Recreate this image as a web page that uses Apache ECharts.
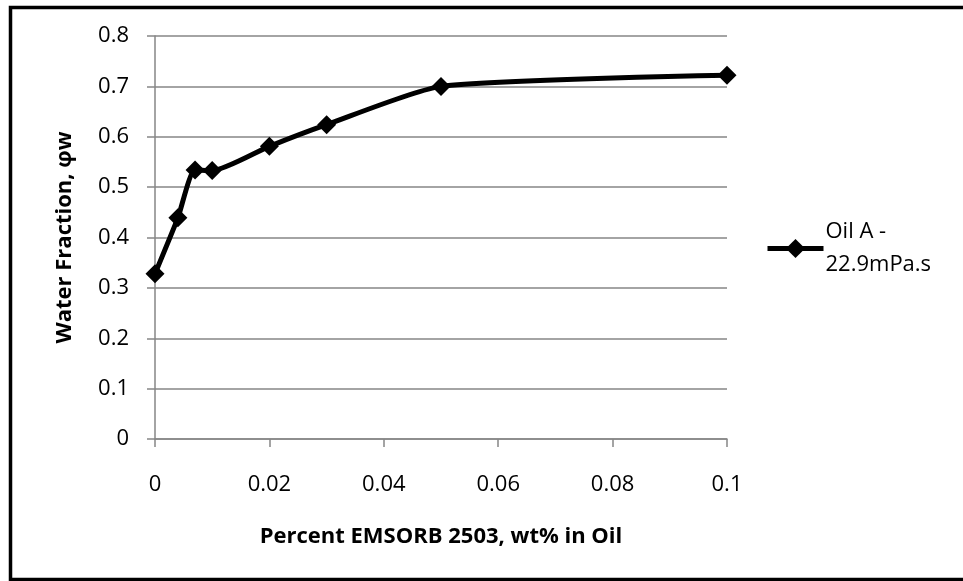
<!DOCTYPE html>
<html>
<head>
<meta charset="utf-8">
<script src="https://cdn.jsdelivr.net/npm/echarts@6/dist/echarts.min.js"></script>
<style>
html,body{margin:0;padding:0;background:#fff;}
#chart{width:963px;height:581px;}
</style>
</head>
<body>
<div id="chart"></div>
<script>
// Surfactant concentration (wt% in oil) vs. water fraction at inversion
const surfactantPct = [0, 0.004, 0.007, 0.01, 0.02, 0.03, 0.05, 0.1];
const waterFraction = [0.328, 0.439, 0.534, 0.533, 0.581, 0.624, 0.700, 0.722];
const seriesName = 'Oil A -\n22.9mPa.s';
const xTicks = { min: 0, max: 0.1, interval: 0.02 };
const yTicks = { min: 0, max: 0.8, interval: 0.1 };

const font = "'Open Sans', 'Noto Sans', sans-serif";
const gray = '#868686';

const chart = echarts.init(document.getElementById('chart'), null, { renderer: 'canvas' });
chart.setOption({
  backgroundColor: '#fff',
  animation: false,
  textStyle: { fontFamily: font },
  graphic: [{
    type: 'rect',
    shape: { x: 10.5, y: 7.5, width: 980, height: 572 },
    style: { fill: 'none', stroke: '#000', lineWidth: 3.5 },
    silent: true
  }],
  grid: { left: 155, right: 236, top: 36, bottom: 142 },
  legend: {
    left: 765, top: 199,
    padding: 0,
    itemWidth: 56, itemHeight: 24,
    itemGap: 0,
    lineStyle: { width: 5 },
    textStyle: {
      fontFamily: font, fontSize: 22, color: '#000',
      lineHeight: 33, padding: [33, 0, 0, -3]
    },
    data: [seriesName]
  },
  xAxis: {
    type: 'value',
    min: xTicks.min, max: xTicks.max, interval: xTicks.interval,
    name: 'Percent EMSORB 2503, wt% in Oil',
    nameLocation: 'middle', nameGap: 87,
    nameTextStyle: { fontFamily: font, fontSize: 22, fontWeight: 'bold', color: '#000' },
    axisLine: { show: true, lineStyle: { color: gray, width: 1.5 } },
    axisTick: { show: true, length: 8, lineStyle: { color: gray, width: 1.5 } },
    axisLabel: { fontFamily: font, fontSize: 22, color: '#000', margin: 35 },
    splitLine: { show: false }
  },
  yAxis: {
    type: 'value',
    min: yTicks.min, max: yTicks.max, interval: yTicks.interval,
    name: 'Water Fraction, φw',
    nameLocation: 'middle', nameGap: 79, nameRotate: 90,
    nameTextStyle: { fontFamily: font, fontSize: 22, fontWeight: 'bold', color: '#000' },
    axisLine: { show: true, lineStyle: { color: gray, width: 1.5 } },
    axisTick: { show: true, length: 8, lineStyle: { color: gray, width: 1.5 } },
    axisLabel: { fontFamily: font, fontSize: 22, color: '#000', margin: 26 },
    splitLine: { show: true, lineStyle: { color: gray, width: 1.5 } }
  },
  series: [{
    name: seriesName,
    type: 'line',
    data: surfactantPct.map((x, i) => [x, waterFraction[i]]),
    smooth: 0.2,
    symbol: 'diamond',
    symbolSize: 19,
    itemStyle: { color: '#000' },
    lineStyle: { color: '#000', width: 5 }
  }]
});
</script>
</body>
</html>
